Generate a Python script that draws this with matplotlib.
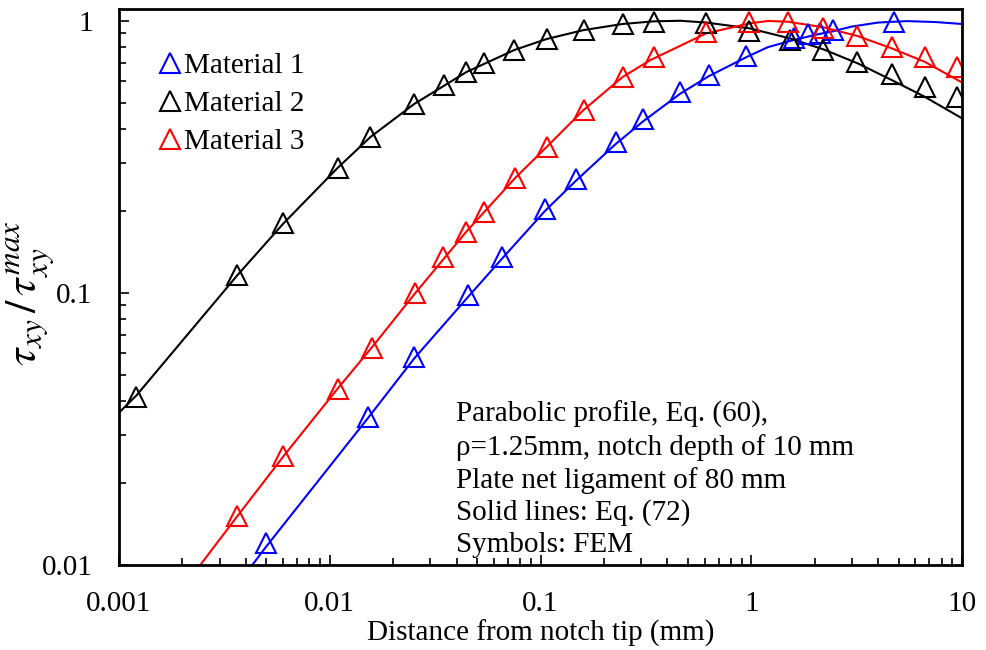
import matplotlib
matplotlib.use('Agg')
import matplotlib.pyplot as plt
from matplotlib.ticker import FuncFormatter

plt.rcParams['font.family'] = ['Liberation Serif', 'DejaVu Serif']
plt.rcParams['mathtext.fontset'] = 'stix'

# FEM symbols
x_fem_1 = [0.0050, 0.0151, 0.0252, 0.0455, 0.0659, 0.105, 0.147, 0.227, 0.308, 0.461, 0.627, 0.948, 1.59, 1.85, 2.11, 2.43, 4.73]
y_fem_1 = [0.0120, 0.0351, 0.0583, 0.0985, 0.136, 0.204, 0.263, 0.359, 0.436, 0.547, 0.632, 0.742, 0.864, 0.894, 0.901, 0.925, 0.989]

x_fem_2 = [0.00121, 0.00364, 0.00603, 0.0109, 0.0156, 0.0252, 0.0350, 0.0445, 0.0542, 0.0752, 0.107,
           0.160, 0.245, 0.344, 0.612, 0.980, 1.52, 2.20, 3.19, 4.63, 6.64, 9.42]
y_fem_2 = [0.0416, 0.116, 0.180, 0.288, 0.374, 0.495, 0.581, 0.648, 0.699, 0.781, 0.857,
           0.924, 0.973, 0.989, 0.981, 0.917, 0.850, 0.781, 0.705, 0.637, 0.571, 0.525]

x_fem_3 = [0.00364, 0.00603, 0.0109, 0.0158, 0.0255, 0.0346, 0.0445, 0.0542, 0.0760, 0.107, 0.160,
           0.245, 0.347, 0.612, 0.980, 1.49, 2.20, 3.16, 4.63, 6.64, 9.42]
y_fem_3 = [0.0151, 0.0251, 0.0445, 0.0629, 0.100, 0.135, 0.168, 0.199, 0.265, 0.344, 0.470,
           0.621, 0.736, 0.909, 0.989, 0.989, 0.940, 0.879, 0.800, 0.736, 0.676]

# Eq. (72) solid lines
x_eq_1 = [0.00429, 0.005, 0.0151, 0.0252, 0.0455, 0.0659, 0.105, 0.147, 0.227, 0.308, 0.461,
          0.627, 0.948, 1.2, 1.59, 2.1, 2.43, 3.0, 4.0, 5.5, 7.5, 10]
y_eq_1 = [0.0100, 0.0117, 0.0345, 0.0575, 0.097, 0.134, 0.200, 0.258, 0.352, 0.428, 0.540,
          0.625, 0.735, 0.800, 0.850, 0.894, 0.914, 0.952, 0.985, 0.997, 0.989, 0.973]

x_eq_2 = [0.001, 0.00121, 0.00364, 0.00603, 0.0109, 0.0156, 0.0252, 0.0445, 0.0752, 0.107, 0.160,
          0.245, 0.344, 0.46, 0.612, 0.98, 1.52, 2.20, 3.19, 4.63, 6.64, 10]
y_eq_2 = [0.0363, 0.042, 0.116, 0.180, 0.288, 0.374, 0.495, 0.648, 0.781, 0.857, 0.924,
          0.973, 0.995, 1.0, 0.985, 0.938, 0.862, 0.785, 0.698, 0.606, 0.526, 0.438]

x_eq_3 = [0.00243, 0.00364, 0.00603, 0.0109, 0.0158, 0.0255, 0.0445, 0.0760, 0.107, 0.160, 0.245,
          0.332, 0.612, 0.98, 1.2, 1.49, 2.20, 3.19, 4.63, 6.64, 10]
y_eq_3 = [0.0100, 0.0151, 0.0251, 0.0445, 0.0629, 0.100, 0.168, 0.265, 0.344, 0.470, 0.621,
          0.717, 0.899, 0.978, 0.998, 0.992, 0.946, 0.879, 0.792, 0.707, 0.593]

labels = ['Material 1', 'Material 2', 'Material 3']
colors = ['#0000ff', 'black', '#ff0000']

note = ('Parabolic profile, Eq. (60),\n'
        'ρ=1.25mm, notch depth of 10 mm\n'
        'Plate net ligament of 80 mm\n'
        'Solid lines: Eq. (72)\n'
        'Symbols: FEM')

fig = plt.figure(figsize=(9.87, 6.5), dpi=100)
ax = fig.add_axes([0.1206, 0.1308, 0.8541, 0.8546])

fem = [(x_fem_1, y_fem_1), (x_fem_2, y_fem_2), (x_fem_3, y_fem_3)]
eqs = [(x_eq_1, y_eq_1), (x_eq_2, y_eq_2), (x_eq_3, y_eq_3)]

for (xe, ye), c in zip(eqs, colors):
    ax.plot(xe, ye, '-', color=c, lw=1.5)
for (xf, yf), c, lab in zip(fem, colors, labels):
    ax.plot(xf, yf, '^', color=c, ms=14, mfc='none', mew=1.5, label=lab, ls='none')

ax.set_xscale('log')
ax.set_yscale('log')
ax.set_xlim(0.001, 10)
ax.set_ylim(0.01, 1.1)

fmt = FuncFormatter(lambda v, p: f'{v:g}')
ax.xaxis.set_major_formatter(fmt)
ax.yaxis.set_major_formatter(fmt)
ax.set_yticks([0.01, 0.1, 1])

for s in ax.spines.values():
    s.set_linewidth(2)
ax.tick_params(which='both', direction='in', top=False, right=False, width=1.2)
ax.tick_params(which='major', length=7, labelsize=21)
ax.tick_params(which='minor', length=5)
ax.tick_params(axis='x', which='major', pad=19)
ax.tick_params(axis='y', which='major', pad=19)

ax.set_xlabel('Distance from notch tip (mm)', fontsize=21, labelpad=2)
fig.text(0.031, 0.549, r'$\tau_{xy}\,/\,\tau_{xy}^{max}$', fontsize=32, rotation=90,
         ha='center', va='center')

ax.legend(loc='upper left', bbox_to_anchor=(0.035, 0.943), frameon=False, fontsize=21,
          handlelength=0.7, handletextpad=0.1, labelspacing=0.4, borderaxespad=0)

ax.text(0.4, 0.295, note, transform=ax.transAxes, fontsize=21, va='top', ha='left', linespacing=1.27)

fig.savefig('out.png', dpi=100)
